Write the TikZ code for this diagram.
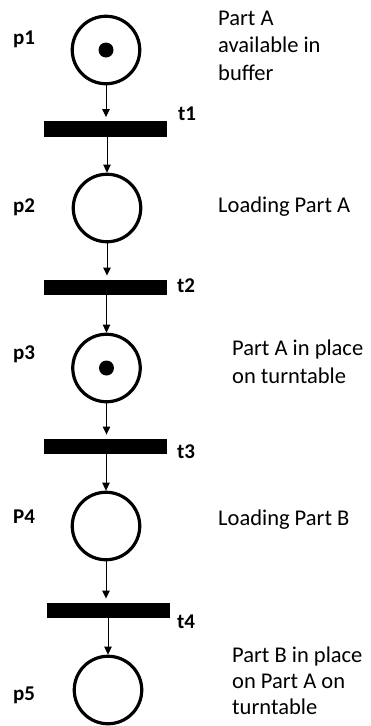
\documentclass[tikz,border=0pt]{standalone}
\usepackage{fontspec}
\setmainfont{Carlito}
\usetikzlibrary{arrows.meta}
\begin{document}
\begin{tikzpicture}[x=1pt,y=-1pt,
  place/.style={circle,draw,line width=3.2pt,minimum size=67.5pt,inner sep=0pt},
  trans/.style={fill=black,draw=none,minimum width=123pt,minimum height=15.5pt,inner sep=0pt},
  arr/.style={-{Triangle[length=8pt,width=7.5pt]},line width=1pt},
  plabel/.style={font=\fontsize{21}{24}\selectfont\bfseries,anchor=base west,inner sep=0pt},
  desc/.style={font=\fontsize{22.5}{27.5}\selectfont,anchor=base west,align=left,inner sep=0pt}]
\useasboundingbox (0,0) rectangle (370,726);
% places
\node[place] (p1) at (106,50) {};
\node[place] (p2) at (107,208) {};
\node[place] (p3) at (106.5,368) {};
\node[place] (p4) at (106,526) {};
\node[place] (p5) at (108,690) {};
% tokens
\fill (p1.center) circle[radius=7.5pt];
\fill (p3.center) circle[radius=7.5pt];
% transitions
\node[trans] (t1) at (105.5,129) {};
\node[trans] (t2) at (105,287.5) {};
\node[trans] (t3) at (105.5,446.5) {};
\node[trans] (t4) at (108,610.5) {};
% arcs
\draw[arr,shorten >=4pt] (p1.south) -- (p1.south |- t1.north);
\draw[arr] (p2.north |- t1.south) -- (p2.north);
\draw[arr,shorten >=4pt] (p2.south) -- (p2.south |- t2.north);
\draw[arr] (p3.north |- t2.south) -- (p3.north);
\draw[arr,shorten >=4pt] (p3.south) -- (p3.south |- t3.north);
\draw[arr] (p4.north |- t3.south) -- (p4.north);
\draw[arr,shorten >=4pt] (p4.south) -- (p4.south |- t4.north);
\draw[arr] (p5.north |- t4.south) -- (p5.north);
% place labels
\node[plabel] (lp1) at (13,44) {p1};
\node[plabel] (lp2) at (13,212) {p2};
\node[plabel] (lp3) at (13,359) {p3};
\node[plabel] (lp4) at (13,523) {P4};
\node[plabel] (lp5) at (13,700) {p5};
% transition labels
\node[plabel] (lt1) at (178,120) {t1};
\node[plabel] (lt2) at (177,292) {t2};
\node[plabel] (lt3) at (177,458) {t3};
\node[plabel] (lt4) at (177,628) {t4};
% descriptions (anchor = baseline of last line)
\node[desc] (d1) at (218,80) {Part A\\available in\\buffer};
\node[desc] (d2) at (218,212) {Loading Part A};
\node[desc] (d3) at (232,383) {Part A in place\\on turntable};
\node[desc] (d4) at (218,525) {Loading Part B};
\node[desc,font=\fontsize{22.5}{26}\selectfont] (d5) at (232,714) {Part B in place\\on Part A on\\turntable};
\end{tikzpicture}
\end{document}
